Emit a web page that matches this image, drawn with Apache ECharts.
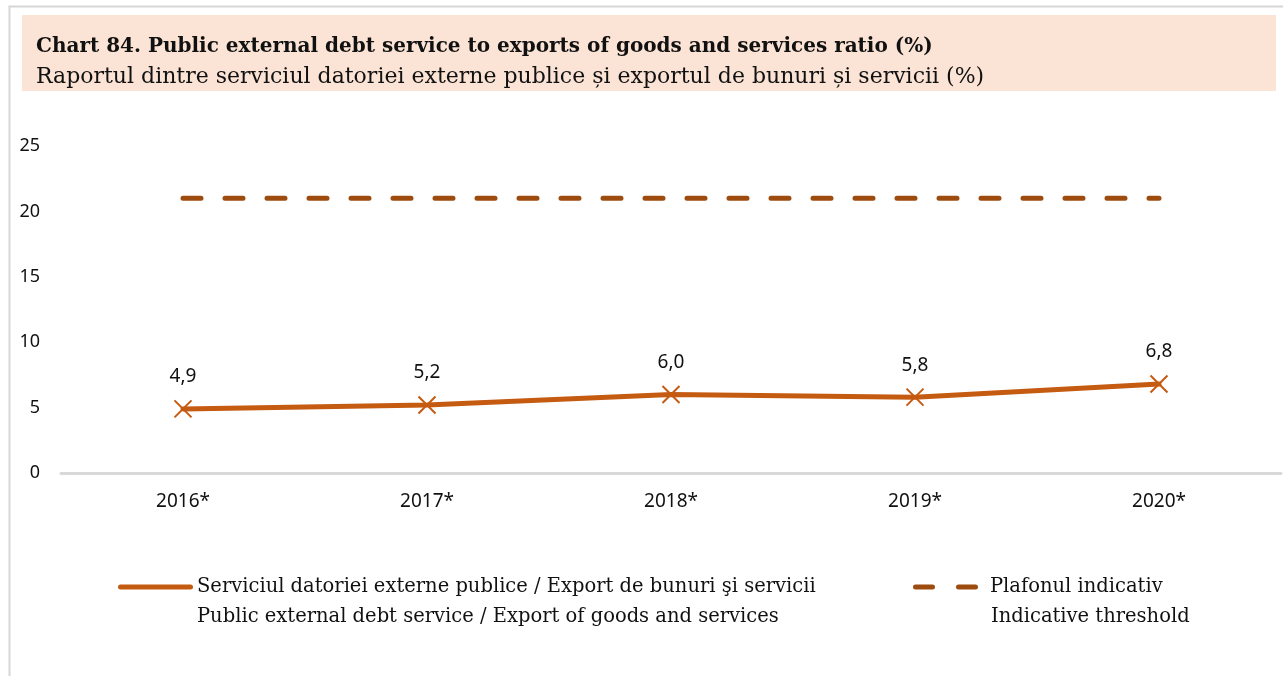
<!DOCTYPE html>
<html>
<head>
<meta charset="utf-8">
<script src="https://cdn.jsdelivr.net/npm/echarts@6/dist/echarts.min.js"></script>
<style>
  html, body { margin: 0; padding: 0; background: #ffffff; }
  #chart { width: 1283px; height: 676px; }
</style>
</head>
<body>
<div id="chart"></div>
<script>
// Years on the category axis
const years = ['2016*', '2017*', '2018*', '2019*', '2020*'];
// Public external debt service / exports of goods and services (%)
const debtServiceRatio = [4.9, 5.2, 6.0, 5.8, 6.8];
// Indicative threshold (%)
const indicativeThreshold = [21, 21, 21, 21, 21];
// Value axis ticks
const yTicks = [0, 5, 10, 15, 20, 25];

const titleText = 'Chart 84. Public external debt service to exports of goods and services ratio (%)';
const subtitleText = 'Raportul dintre serviciul datoriei externe publice și exportul de bunuri și servicii (%)';
const seriesRo = ['Serviciul datoriei externe publice / Export de bunuri şi servicii', 'Plafonul indicativ'];
const seriesEn = ['Public external debt service / Export of goods and services', 'Indicative threshold'];

const LINE_COLOR = '#c55a11';
const THRESHOLD_COLOR = '#9e4b0f';
const SERIF = '"DejaVu Serif", "Liberation Serif", serif';
const SANS = '"Noto Sans", "Open Sans", sans-serif';

const chart = echarts.init(document.getElementById('chart'), null, { renderer: 'canvas' });

const crossPath = 'path://M0,0L10,10M10,0L0,10';
// Legend keys: a thick solid bar, and two dashes with rounded ends
const solidKey = 'path://M2.5,0H72.5A2.5,2.5,0,0,1,72.5,5H2.5A2.5,2.5,0,0,1,2.5,0Z';
const dashedKey = 'path://M2.5,0H19.5A2.5,2.5,0,0,1,19.5,5H2.5A2.5,2.5,0,0,1,2.5,0Z' +
  'M45.5,0H62.5A2.5,2.5,0,0,1,62.5,5H45.5A2.5,2.5,0,0,1,45.5,0Z';

const legendText = { color: '#111111', fontFamily: SERIF, fontSize: 19.5, lineHeight: 24 };

chart.setOption({
  backgroundColor: '#ffffff',
  animation: false,
  graphic: [
    { type: 'rect', silent: true, shape: { x: 9.5, y: 6.5, width: 1300, height: 700 },
      style: { fill: 'none', stroke: '#d6d6d6', lineWidth: 2 } },
    { type: 'rect', silent: true, shape: { x: 22, y: 15, width: 1254, height: 76 },
      style: { fill: '#fbe4d5' } },
    { type: 'text', silent: true, x: 36, y: 47,
      style: { text: titleText, fill: '#111111', font: 'bold 20px ' + SERIF, verticalAlign: 'middle' } },
    { type: 'text', silent: true, x: 36, y: 77,
      style: { text: subtitleText, fill: '#111111', font: '22px ' + SERIF, verticalAlign: 'middle' } },
    { type: 'text', silent: true, x: 197, y: 617,
      style: { text: seriesEn[0], fill: '#111111', font: '19.5px ' + SERIF, verticalAlign: 'middle' } },
    { type: 'text', silent: true, x: 991, y: 617,
      style: { text: seriesEn[1], fill: '#111111', font: '19.5px ' + SERIF, verticalAlign: 'middle' } }
  ],
  grid: { left: 61, right: 2, top: 146, bottom: 203, containLabel: false },
  xAxis: {
    type: 'category',
    data: years,
    boundaryGap: true,
    axisLine: { show: true, lineStyle: { color: '#d9d9d9', width: 3 } },
    axisTick: { show: false },
    axisLabel: { color: '#111111', fontFamily: SANS, fontSize: 19, margin: 19 }
  },
  yAxis: {
    type: 'value',
    min: yTicks[0],
    max: yTicks[yTicks.length - 1],
    interval: yTicks[1] - yTicks[0],
    axisLine: { show: false },
    axisTick: { show: false },
    splitLine: { show: false },
    axisLabel: { color: '#111111', fontFamily: SANS, fontSize: 18, margin: 21 }
  },
  legend: [
    {
      left: 118, top: 575, padding: 0,
      itemWidth: 75, itemHeight: 5, itemGap: 0,
      icon: solidKey,
      itemStyle: { color: LINE_COLOR, borderWidth: 0 },
      data: [seriesRo[0]],
      textStyle: Object.assign({ padding: [0, 0, 0, -1] }, legendText)
    },
    {
      left: 913, top: 575, padding: 0,
      itemWidth: 67, itemHeight: 5, itemGap: 0,
      icon: dashedKey,
      itemStyle: { color: THRESHOLD_COLOR, borderWidth: 0 },
      data: [seriesRo[1]],
      textStyle: Object.assign({ padding: [0, 0, 0, 6] }, legendText)
    }
  ],
  series: [
    {
      name: seriesRo[0],
      type: 'line',
      data: debtServiceRatio,
      symbol: crossPath,
      symbolSize: 17,
      itemStyle: { color: 'rgba(0,0,0,0)', borderColor: LINE_COLOR, borderWidth: 2 },
      lineStyle: { color: LINE_COLOR, width: 5, cap: 'round' },
      label: {
        show: true,
        position: 'top',
        distance: 13,
        color: '#111111',
        fontFamily: SANS,
        fontSize: 19,
        formatter: (p) => p.value.toFixed(1).replace('.', ',')
      },
      z: 3
    },
    {
      name: seriesRo[1],
      type: 'line',
      data: indicativeThreshold,
      symbol: 'none',
      itemStyle: { color: THRESHOLD_COLOR },
      lineStyle: { color: THRESHOLD_COLOR, width: 5, type: [18, 24], cap: 'round' },
      z: 2
    }
  ]
});
</script>
</body>
</html>
